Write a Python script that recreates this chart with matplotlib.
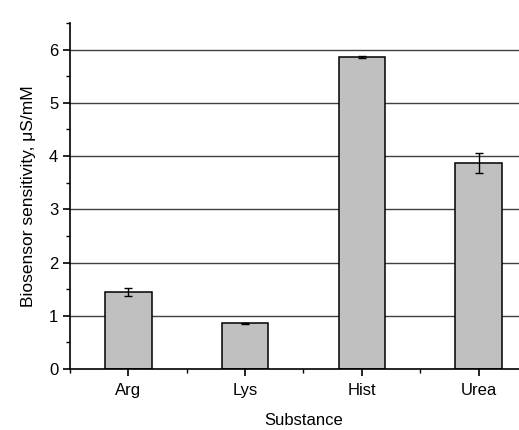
import matplotlib
matplotlib.use("Agg")
import matplotlib.pyplot as plt
import numpy as np
from matplotlib.ticker import MultipleLocator

plt.rcParams['font.family'] = ['Liberation Sans', 'DejaVu Sans']

## Data
substances = ["Arg", "Lys", "Hist", "Urea"]
sensitivity = [1.45, 0.86, 5.86, 3.87]
errors = [0.07, 0.01, 0.02, 0.19]

x = np.arange(len(substances)) + 0.5

fig = plt.figure(figsize=(5.19, 4.30), dpi=100)
# axes runs a bit past the right edge, like the cropped original
ax = fig.add_axes([70/519, 61/430, 467/519, 346/430])

# Grid lines behind bars
for v in range(1, 7):
    ax.axhline(v, color='#404040', lw=1.0, zorder=0)

ax.bar(x, sensitivity, width=0.4, color='#c0c0c0', edgecolor='black', lw=1.1, zorder=2)
ax.errorbar(x, sensitivity, yerr=errors, fmt='none', ecolor='black', elinewidth=1.0,
            capsize=3, capthick=1.0, zorder=3)

ax.set_xlim(0, 4)
ax.set_ylim(0, 6.5)
ax.set_xticks(x)
ax.set_xticklabels(substances)
ax.xaxis.set_minor_locator(MultipleLocator(1))
ax.yaxis.set_major_locator(MultipleLocator(1))
ax.yaxis.set_minor_locator(MultipleLocator(0.5))
ax.tick_params(axis='both', which='major', direction='out', length=5, width=1.2, labelsize=12)
ax.tick_params(axis='both', which='minor', direction='out', length=3, width=1.0)
ax.tick_params(axis='x', which='major', pad=5)

for side in ['top', 'right']:
    ax.spines[side].set_visible(False)
for side in ['left', 'bottom']:
    ax.spines[side].set_linewidth(1.2)

ax.set_ylabel("Biosensor sensitivity, \u03bcS/mM", fontsize=12.5, labelpad=9)
ax.set_xlabel("Substance", fontsize=12, labelpad=11)

fig.savefig("out.png", dpi=100)
